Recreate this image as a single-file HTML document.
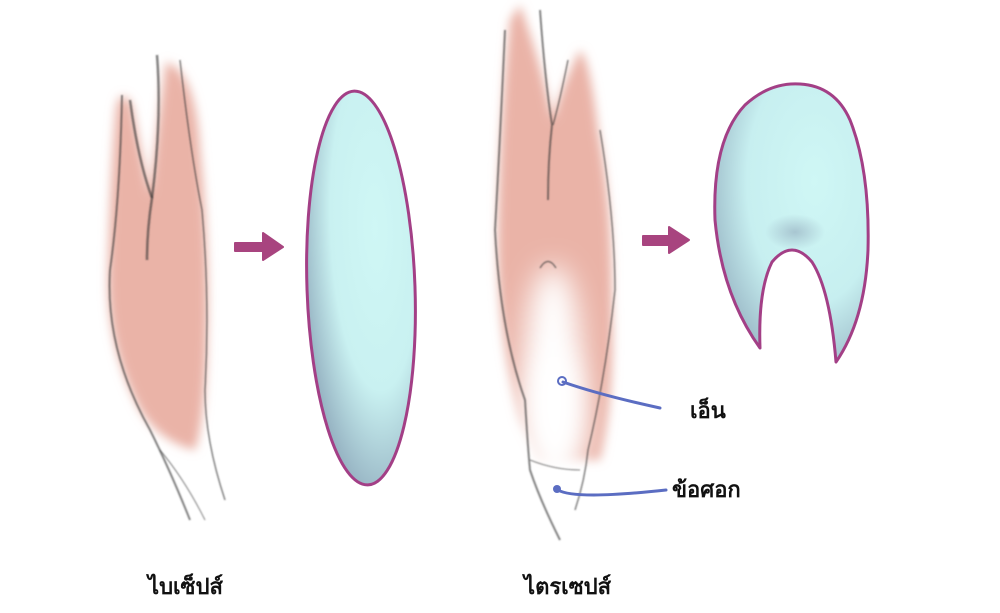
<!DOCTYPE html>
<html><head><meta charset="utf-8"><style>
html,body{margin:0;padding:0;background:#fff;width:1000px;height:613px;overflow:hidden}
svg{display:block}
text{font-family:"Liberation Sans","DejaVu Sans",sans-serif;fill:#111;font-weight:bold}
</style></head><body>
<svg width="1000" height="613" viewBox="0 0 1000 613" xmlns="http://www.w3.org/2000/svg">
<defs>
<filter id="blur" x="-20%" y="-20%" width="140%" height="140%"><feGaussianBlur stdDeviation="5"/></filter>
<filter id="blur2" x="-50%" y="-50%" width="200%" height="200%"><feGaussianBlur stdDeviation="14"/></filter>
<filter id="sb"><feGaussianBlur stdDeviation="0.7"/></filter>
<radialGradient id="g1" cx="0.65" cy="0.35" r="0.75">
<stop offset="0" stop-color="#cff7f5"/><stop offset="0.55" stop-color="#c9f1f1"/><stop offset="1" stop-color="#8ea9bb"/></radialGradient>
<radialGradient id="g2" cx="0.65" cy="0.35" r="0.8">
<stop offset="0" stop-color="#cff7f5"/><stop offset="0.55" stop-color="#c7eff0"/><stop offset="1" stop-color="#8ea9bb"/></radialGradient>
<radialGradient id="sh" cx="0.5" cy="0.5" r="0.5"><stop offset="0" stop-color="#8a9fb4" stop-opacity="0.9"/><stop offset="1" stop-color="#8a9fb4" stop-opacity="0"/></radialGradient>
</defs>

<!-- Biceps -->
<path d="M116 110 Q120 85 132 105 L150 195 Q158 120 166 62 Q196 72 200 150 Q210 250 207 340 Q205 420 195 450 Q160 442 140 410 Q108 350 108 280 Q110 180 116 110 Z" fill="#eab3a7" filter="url(#blur)"/>
<g fill="none" stroke="#333" stroke-opacity="0.6" filter="url(#sb)">
<path d="M122 95 Q120 200 110 270 Q105 350 150 430 Q170 470 190 520" stroke-width="2"/>
<path d="M130 100 Q138 160 152 198 Q147 230 147 260" stroke-width="2.5"/>
<path d="M157 55 Q162 120 152 198" stroke-width="2.5"/>
<path d="M180 60 Q190 150 202 210 Q210 300 205 390 Q205 440 225 500" stroke-width="1.5"/>
<path d="M160 450 Q185 480 205 520" stroke-width="1"/>
</g>

<!-- arrow 1 -->
<path d="M235 243 L263 243 L263 233 L283 247 L263 260 L263 251 L235 251 Z" fill="#a8447f" stroke="#a8447f" stroke-width="2" stroke-linejoin="round"/>

<!-- blue oval -->
<ellipse cx="361" cy="288" rx="54" ry="197" transform="rotate(-2 361 288)" fill="url(#g1)" stroke="#a33f86" stroke-width="3"/>

<!-- Triceps -->
<path d="M510 20 Q500 120 498 220 Q495 330 520 420 L540 460 L600 460 Q615 400 612 300 Q612 200 598 130 Q590 60 580 50 Q560 90 553 120 Q540 60 520 5 Z" fill="#eab3a7" filter="url(#blur)"/>
<ellipse cx="553" cy="360" rx="28" ry="95" fill="#fff" filter="url(#blur2)"/>
<ellipse cx="555" cy="420" rx="30" ry="70" fill="#fff" filter="url(#blur2)"/>
<g fill="none" stroke="#333" stroke-opacity="0.6" filter="url(#sb)">
<path d="M505 30 Q500 140 495 230 Q500 330 525 400 Q528 450 530 470 Q540 500 560 540" stroke-width="2"/>
<path d="M540 10 Q545 80 552 125 Q548 160 548 200" stroke-width="2"/>
<path d="M568 60 Q560 100 553 125" stroke-width="1.5"/>
<path d="M600 130 Q615 220 615 290 Q605 380 588 450 Q585 480 575 510" stroke-width="1.5"/>
<path d="M540 268 Q548 255 556 268" stroke-width="1.5"/>
<path d="M530 460 Q555 470 580 470" stroke-width="1"/>
</g>

<!-- arrow 2 -->
<path d="M643 236 L669 236 L669 227 L689 240 L669 253 L669 245 L643 245 Z" fill="#a8447f" stroke="#a8447f" stroke-width="2" stroke-linejoin="round"/>

<!-- blue arch -->
<path d="M760 348 Q722 295 715 220 Q712 140 745 105 Q770 82 800 84 Q835 86 850 120 Q870 170 868 250 Q865 320 836 362 Q830 290 812 262 Q792 238 772 262 Q758 290 760 348 Z" fill="url(#g2)" stroke="#a33f86" stroke-width="3" stroke-linejoin="round"/>
<ellipse cx="795" cy="232" rx="30" ry="18" fill="url(#sh)" opacity="0.6"/>

<!-- pointers -->
<g fill="none" stroke="#5b6dc2" stroke-width="3" stroke-linecap="round">
<path d="M563 382 Q600 395 660 408"/>
<path d="M558 490 Q575 500 666 490"/>
</g>
<circle cx="562" cy="381" r="4" fill="none" stroke="#5b6dc2" stroke-width="2"/>
<circle cx="557" cy="489" r="4" fill="#5b6dc2"/>

<text x="690" y="418" font-size="22">เอ็น</text>
<text x="672" y="497" font-size="22">ข้อศอก</text>
<text x="148" y="594" font-size="22">ไบเซ็ปส์</text>
<text x="524" y="594" font-size="22">ไตรเซปส์</text>
</svg>
</body></html>
